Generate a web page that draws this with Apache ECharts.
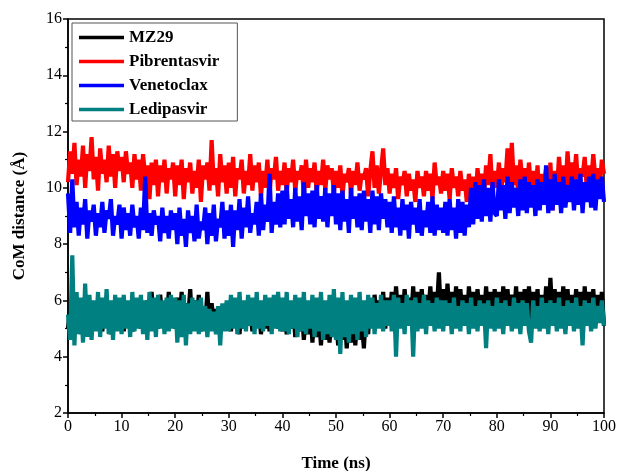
<!DOCTYPE html>
<html>
<head>
<meta charset="utf-8">
<script src="https://cdn.jsdelivr.net/npm/echarts@6/dist/echarts.min.js"></script>
<style>html,body{margin:0;padding:0;background:#fff;}#c{width:619px;height:471px;}</style>
</head>
<body>
<div id="c"></div>
<script>
const seriesNames = ['MZ29', 'Pibrentasvir', 'Venetoclax', 'Ledipasvir'];
const seriesColors = ['#000000', '#ff0000', '#0000ff', '#008080'];
const timeStepNs = 0.4;

const mz29 = [
5.0,5.8,4.9,5.6,5.1,5.9,4.8,5.5,5.2,5.7,4.9,5.6,5.0,5.8,5.1,5.5,4.9,5.7,5.2,5.6,4.8,5.8,5.0,5.5,5.1,
5.7,4.9,5.6,5.2,5.8,4.9,5.5,5.1,5.9,5.0,5.6,5.2,6.0,5.1,6.3,5.2,5.8,5.0,6.2,5.3,5.9,5.1,6.3,5.2,6.0,
5.0,6.1,5.2,6.3,5.1,5.9,5.3,6.4,5.0,6.0,5.2,6.2,4.9,5.8,5.1,6.3,5.0,5.9,5.2,5.7,4.9,5.8,5.1,5.6,5.0,
5.6,4.9,5.7,5.1,5.5,4.8,5.8,5.0,5.6,5.2,5.7,4.9,5.5,5.1,5.8,4.8,5.6,5.0,5.7,4.9,5.5,5.1,5.8,5.0,5.6,
4.9,5.7,4.8,5.5,5.0,5.8,4.7,5.6,4.9,5.7,4.6,5.5,4.8,5.8,4.5,5.6,4.7,5.5,4.4,5.7,4.6,5.4,4.5,5.6,4.7,
5.5,4.4,5.3,4.6,5.6,4.3,5.4,4.5,5.7,4.4,5.5,4.6,5.3,4.3,5.6,4.8,5.9,5.1,6.2,5.3,6.0,5.2,6.3,5.0,6.1,
5.3,6.3,5.1,6.5,5.4,6.2,5.2,6.4,5.5,6.1,5.3,6.5,5.1,6.3,5.4,6.4,5.2,6.2,5.5,6.5,5.3,6.3,5.6,7.0,5.4,
6.4,5.2,6.6,5.4,6.3,5.3,6.5,5.1,6.4,5.5,6.2,5.2,6.5,5.4,6.3,5.3,6.4,5.5,6.2,5.2,6.5,5.4,6.3,5.1,6.4,
5.4,6.3,5.2,6.5,5.5,6.4,5.3,6.2,5.4,6.5,5.2,6.3,5.5,6.4,5.1,6.5,5.3,6.3,5.4,6.4,5.0,6.2,5.3,6.5,5.2,
6.8,5.3,6.4,5.1,6.3,5.4,6.5,5.0,6.4,5.2,6.2,5.4,6.4,5.1,6.3,4.9,6.5,5.3,6.3,5.0,6.4,5.2,6.2,5.4,6.3,5.1
];

const pibrentasvir = [
10.2,11.3,10.5,11.6,10.1,11.0,10.4,11.5,10.0,11.2,10.6,11.8,10.3,11.1,9.9,11.4,10.5,11.0,10.2,11.5,10.4,11.2,10.0,11.3,10.6,
11.1,10.2,11.3,10.5,10.9,10.0,11.2,10.3,11.0,9.9,11.2,10.4,10.8,9.6,10.9,10.1,11.0,9.7,10.8,10.2,11.0,9.8,10.7,10.3,10.9,
9.7,10.8,10.1,11.0,9.6,10.7,10.2,10.9,9.8,10.6,10.0,11.0,9.5,10.8,10.3,10.9,9.9,11.7,10.1,10.7,9.7,11.2,10.2,10.8,9.8,
10.9,10.0,11.1,9.7,10.7,10.3,11.0,9.8,10.6,10.1,11.2,9.9,10.8,10.2,10.9,9.7,10.6,10.0,11.0,9.8,10.7,10.3,11.1,9.9,10.6,
10.1,10.9,9.8,10.7,10.2,11.0,9.9,10.6,10.3,10.8,9.7,11.0,10.0,10.7,10.2,10.9,9.8,10.6,10.1,11.0,9.9,10.8,10.3,10.7,9.8,
10.6,10.0,10.8,9.7,10.5,10.2,10.7,9.8,10.6,10.1,10.9,9.9,10.5,10.3,10.7,9.7,10.6,11.3,10.0,10.8,9.8,10.6,11.4,10.1,10.7,
9.8,10.5,10.0,10.7,9.6,10.4,10.1,10.6,9.7,10.5,9.9,10.3,9.5,10.6,10.0,10.4,9.7,10.6,9.9,10.5,9.6,10.9,10.1,10.4,9.8,
10.6,9.9,10.5,9.6,10.7,10.0,10.4,9.7,10.6,9.9,10.3,9.5,10.5,9.8,10.4,9.4,10.7,9.9,10.5,9.7,10.8,10.1,11.2,9.8,10.6,
10.0,10.9,9.8,10.7,10.2,11.4,9.9,11.6,10.1,10.8,9.7,11.0,10.2,10.7,9.8,10.9,10.0,10.6,9.7,10.8,9.3,10.5,9.9,10.7,9.4,
10.9,9.2,10.6,9.8,11.1,10.2,10.8,9.9,11.3,10.1,10.9,10.3,11.2,10.0,10.7,10.4,11.1,9.9,10.8,10.2,11.2,10.3,10.7,10.0,11.0,10.5
];

const venetoclax = [
9.8,8.4,10.3,8.6,9.5,8.3,9.3,8.7,9.6,8.2,9.2,8.8,9.4,8.3,9.1,8.6,9.5,8.4,9.2,8.9,9.6,8.3,9.0,8.7,9.4,
8.2,9.3,8.5,9.1,8.3,9.4,8.6,9.0,8.2,9.3,8.5,10.4,8.4,9.1,8.3,9.2,8.7,9.0,8.1,9.3,8.4,9.0,8.2,9.2,8.5,
9.1,8.0,9.3,8.3,8.9,7.9,9.2,8.4,9.0,8.1,9.4,8.2,8.8,8.5,9.3,8.0,9.1,8.3,9.4,8.1,8.9,8.6,9.5,8.2,9.2,
8.3,9.4,7.9,9.2,8.5,9.6,8.2,9.3,8.6,9.7,8.4,9.1,8.7,9.5,8.3,9.8,8.5,9.4,8.8,10.5,8.4,9.5,8.7,9.8,8.6,
9.9,8.7,10.1,8.9,9.6,8.6,10.0,8.8,9.7,8.5,10.2,9.0,9.8,8.7,9.9,8.6,10.1,8.9,9.7,8.8,10.0,8.6,9.8,9.0,10.1,
8.7,9.8,8.5,9.9,8.8,9.6,8.4,10.0,8.9,9.7,8.6,9.8,8.5,9.9,8.8,9.6,8.4,9.9,8.7,9.7,8.5,9.8,8.9,9.6,8.6,
9.5,8.4,9.7,8.6,9.3,8.3,9.6,8.5,9.4,8.2,9.5,8.7,9.3,8.4,9.6,8.3,9.2,8.6,9.5,8.4,9.7,8.3,9.4,8.5,9.3,
8.4,9.5,8.3,9.6,8.5,9.3,8.2,9.6,8.4,9.5,8.3,9.4,8.6,10.0,8.7,10.2,8.9,10.1,8.8,10.3,9.0,10.0,8.8,10.2,9.1,
9.0,10.3,9.2,10.1,8.9,10.4,9.1,10.2,9.3,10.0,9.0,10.3,9.2,10.4,9.1,10.2,9.3,10.1,9.0,10.3,9.2,10.2,9.4,10.8,9.1,
10.3,9.2,10.5,9.4,10.2,9.1,10.4,9.3,10.1,9.5,10.4,9.2,10.3,9.4,10.5,9.1,10.2,9.5,10.4,9.3,10.5,9.2,10.3,9.6,10.4,9.5
];

const ledipasvir = [
5.5,4.6,7.6,4.4,6.3,4.8,6.1,4.5,6.6,4.7,6.2,4.6,6.0,4.9,6.3,4.7,6.1,5.0,6.4,4.8,6.0,4.6,6.2,4.9,6.1,
4.8,6.2,5.0,6.0,4.7,6.3,4.9,6.1,5.0,6.2,4.8,6.0,4.6,6.3,4.9,6.1,4.7,6.2,5.0,6.0,4.8,6.1,4.9,6.2,5.0,
6.1,4.5,6.0,4.7,6.2,4.4,5.9,4.8,6.1,4.9,6.0,4.8,6.1,4.9,5.8,4.7,5.7,4.9,5.6,4.8,5.8,4.4,5.9,4.9,6.0,
4.9,6.2,5.0,6.1,4.8,6.3,5.0,6.0,4.9,6.2,5.1,6.1,4.8,6.3,5.0,6.0,4.9,6.2,5.1,6.1,4.8,6.2,5.0,6.3,4.9,
6.1,4.9,6.3,4.8,6.0,5.0,6.2,4.7,6.1,4.9,6.3,4.8,6.0,5.0,6.2,4.7,6.1,4.9,6.3,4.6,6.0,4.8,6.2,4.7,6.4,
4.6,6.1,4.1,6.3,4.7,6.0,4.5,6.2,4.8,6.1,4.6,6.3,4.9,6.0,4.7,6.2,5.0,6.1,4.8,5.9,5.0,6.2,4.9,6.0,5.1,
6.0,4.9,6.2,4.0,6.1,5.0,5.9,4.8,6.2,5.1,6.0,4.0,6.1,4.9,5.9,5.0,6.2,4.8,6.0,5.1,5.9,4.9,6.1,5.0,6.0,
4.9,6.0,5.1,5.9,4.8,6.1,5.0,5.8,4.9,6.0,5.1,5.9,4.8,6.1,5.0,5.8,4.9,6.0,5.1,5.9,4.3,6.0,5.0,5.8,4.9,
6.1,5.0,5.9,4.8,6.0,5.1,5.8,4.9,6.1,5.0,5.9,4.8,6.0,5.1,5.9,4.9,4.5,6.0,5.0,5.8,4.9,6.1,5.0,5.9,4.8,
6.0,5.1,5.9,4.9,6.1,5.0,5.8,4.8,6.0,5.1,5.9,4.9,6.1,5.0,5.8,4.4,6.0,5.1,5.9,4.9,6.1,5.0,5.8,5.2,6.0,5.1
];

const xTicks = { min: 0, max: 100, interval: 10 };
const yTicks = { min: 2, max: 16, interval: 2 };

const seriesValues = [mz29, pibrentasvir, venetoclax, ledipasvir];
const FONT = '"Liberation Serif", "Times New Roman", serif';

function pairs(vals) {
  return vals.map((v, i) => [Math.round(i * timeStepNs * 10) / 10, v]);
}

const chart = echarts.init(document.getElementById('c'), null, { renderer: 'canvas' });
chart.setOption({
  animation: false,
  backgroundColor: '#ffffff',
  grid: { left: 68, right: 15, top: 19, bottom: 58, show: true, borderColor: '#000', borderWidth: 1.5, backgroundColor: 'transparent', outerBoundsMode: 'none', containLabel: false },
  legend: {
    orient: 'vertical', left: 72, top: 23,
    padding: [6, 18, 3, 7], itemGap: 7, itemWidth: 45, itemHeight: 3.5,
    icon: 'rect',
    borderColor: '#555', borderWidth: 1,
    backgroundColor: '#fff',
    textStyle: { fontFamily: FONT, fontWeight: 'bold', fontSize: 17, color: '#000' },
    data: seriesNames
  },
  xAxis: {
    type: 'value', min: xTicks.min, max: xTicks.max, interval: xTicks.interval,
    name: 'Time (ns)', nameLocation: 'middle', nameGap: 42,
    nameTextStyle: { fontFamily: FONT, fontWeight: 'bold', fontSize: 17, color: '#000' },
    axisLine: { show: true, lineStyle: { color: '#000', width: 1.5 } },
    axisTick: { show: true, inside: false, length: 5, lineStyle: { color: '#000', width: 1.5 } },
    minorTick: { show: true, splitNumber: 2, length: 3, lineStyle: { color: '#000', width: 1.2 } },
    axisLabel: { fontFamily: FONT, fontSize: 16, color: '#000', margin: 6 },
    splitLine: { show: false }
  },
  yAxis: {
    type: 'value', min: yTicks.min, max: yTicks.max, interval: yTicks.interval,
    name: 'CoM distance (Å)', nameLocation: 'middle', nameGap: 40,
    nameTextStyle: { fontFamily: FONT, fontWeight: 'bold', fontSize: 17, color: '#000' },
    axisLine: { show: true, lineStyle: { color: '#000', width: 1.5 } },
    axisTick: { show: true, inside: false, length: 5, lineStyle: { color: '#000', width: 1.5 } },
    minorTick: { show: true, splitNumber: 2, length: 3, lineStyle: { color: '#000', width: 1.2 } },
    axisLabel: { fontFamily: FONT, fontSize: 16, color: '#000', margin: 6 },
    splitLine: { show: false }
  },
  series: seriesNames.map((name, k) => ({
    name: name, type: 'line', data: pairs(seriesValues[k]),
    showSymbol: false, symbol: 'none', sampling: null,
    color: seriesColors[k],
    lineStyle: { color: seriesColors[k], width: 4.2, join: 'bevel' },
    z: 2 + k
  }))
});
</script>
</body>
</html>
